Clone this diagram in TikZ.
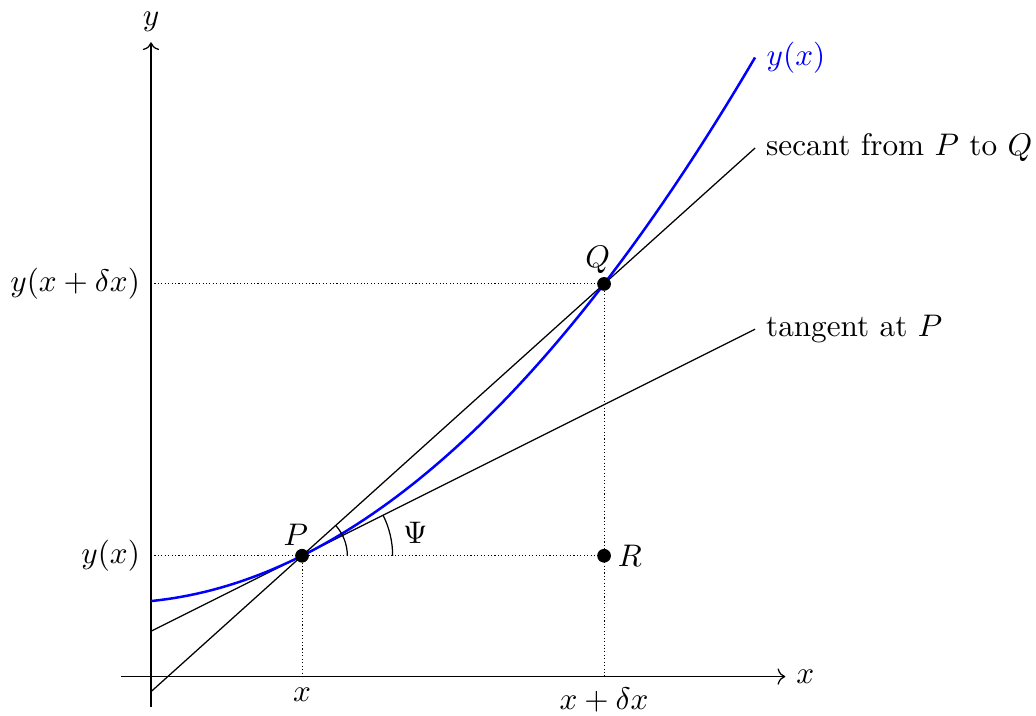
\documentclass[tikz,border=0pt]{standalone}
\usepackage{amsmath}
\usetikzlibrary{arrows.meta, positioning, calc}

\begin{document}
\begin{tikzpicture}[
  x=1.7cm, y=1.7cm,
  axis/.style={->},
  guide/.style={line width=0.3pt, dash pattern=on 0.35pt off 0.75pt},
  curve/.style={blue, thick},
  ptdot/.style={circle, fill=black, inner sep=0pt, minimum size=4.4pt},
]
\useasboundingbox (-1.0,-0.258) rectangle (5.86,4.48);

% axes
\coordinate (O) at (0,0);
\coordinate (xmin) at (-0.2,0);
\coordinate (xmax) at (4.2,0);
\coordinate (ymin) at (0,-0.2);
\coordinate (ymax) at (0,4.2);
\draw[axis] (xmin) -- (xmax) node[right] (xname) {$x$};
\draw[axis] (ymin) -- (ymax) node[above] (yname) {$y$};

% guide lines
\coordinate (yP) at (0,0.8);
\coordinate (yQ) at (0,2.6);
\coordinate (xP) at (1,0);
\coordinate (xQ) at (3,0);
\coordinate (Pc) at (1,0.8);
\coordinate (Qc) at (3,2.6);
\coordinate (Rc) at (3,0.8);
\draw[guide] (yP) -- (Rc);
\draw[guide] (yQ) -- (Qc);
\draw[guide] (Pc) -- (xP);
\draw[guide] (Qc) -- (xQ);
\node[left] (yPlab) at (yP) {$y(x)$};
\node[left] (yQlab) at (yQ) {$y(x+\delta x)$};
\node[below] (xPlab) at (xP) {$x$};
\node[below] (xQlab) at (xQ) {$x+\delta x$};

% tangent and secant
\coordinate (t0) at (0,0.3);
\coordinate (t1) at (4,2.3);
\coordinate (s0) at (0,-0.1);
\coordinate (s1) at (4,3.5);
\draw (t0) -- (t1) node[right] (tlab) {tangent at $P$};
\draw (s0) -- (s1) node[right] (slab) {secant from $P$ to $Q$};

% the curve
\draw[curve] plot[domain=0:4, samples=80] (\x, {0.2*\x*\x+0.1*\x+0.5})
  node[right] (ylab) {$y(x)$};

% points
\node[ptdot, label={[xshift=-2pt, label distance=-2.5pt]above:$P$}] (P) at (Pc) {};
\node[ptdot, label={[xshift=-2pt, label distance=-2.5pt]above:$Q$}] (Q) at (Qc) {};
\node[ptdot, label={[label distance=-1.5pt]right:$R$}] (R) at (Rc) {};

% angles
\draw (Pc) ++(0.3,0) arc[start angle=0, end angle={atan(0.9)}, radius=0.3];
\draw (Pc) ++(0.6,0) arc[start angle=0, end angle={atan(0.5)}, radius=0.6];
\node (psi) at ($(Pc)+(0.75,0.15)$) {$\Psi$};
\end{tikzpicture}
\end{document}
